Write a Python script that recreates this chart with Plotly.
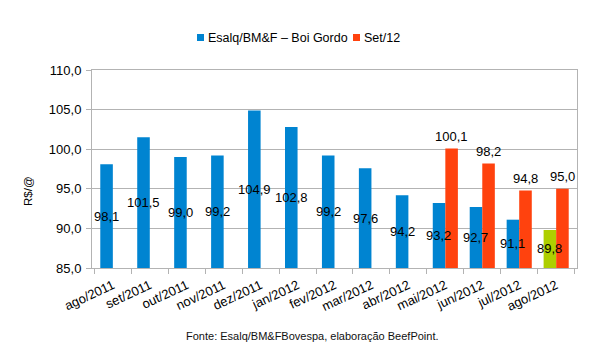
import plotly.graph_objects as go

categories = ["ago/2011", "set/2011", "out/2011", "nov/2011", "dez/2011", "jan/2012",
              "fev/2012", "mar/2012", "abr/2012", "mai/2012", "jun/2012", "jul/2012", "ago/2012"]
boi_gordo = [98.1, 101.5, 99.0, 99.2, 104.9, 102.8, 99.2, 97.6, 94.2, 93.2, 92.7, 91.1, 89.8]
set12 = [None, None, None, None, None, None, None, None, None, 100.1, 98.2, 94.8, 95.0]
y_ticks = [85, 90, 95, 100, 105, 110]

BLUE, ORANGE, GREEN = "#0084d1", "#ff420e", "#aecf00"
BASE = 85.0
FONT = "Liberation Sans"

W, H = 601, 363
ML, MR, MT, MB = 92, 24, 70, 95
PW, PH = W - ML - MR, H - MT - MB
BARGAP = 0.32
half_bar = (PW / len(categories)) * (1 - BARGAP) / 4  # offset of each bar centre from category centre

def fmt(v):
    return f"{v:.1f}".replace(".", ",")

def px(x):
    return (x - ML) / PW

def py(y):
    return (H - MB - y) / PH

blue_colors = [BLUE] * (len(boi_gordo) - 1) + [GREEN]

fig = go.Figure()
fig.add_trace(go.Bar(
    x=categories, y=[v - BASE for v in boi_gordo], base=BASE,
    name="Esalq/BM&F – Boi Gordo", marker=dict(color=blue_colors, line=dict(width=0)),
    showlegend=False,
))
fig.add_trace(go.Bar(
    x=categories, y=[None if v is None else v - BASE for v in set12], base=BASE,
    name="Set/12", marker=dict(color=ORANGE, line=dict(width=0)),
    showlegend=False,
))

annotations = []
for c, v in zip(categories, boi_gordo):
    annotations.append(dict(x=c, y=(BASE + v) / 2, xref="x", yref="y", text=fmt(v),
                            xshift=-half_bar, showarrow=False, xanchor="center", yanchor="middle",
                            font=dict(family=FONT, size=13, color="black")))
for c, v in zip(categories, set12):
    if v is None:
        continue
    annotations.append(dict(x=c, y=v, xref="x", yref="y", text=fmt(v),
                            xshift=half_bar, yshift=12, showarrow=False, xanchor="center",
                            yanchor="middle", font=dict(family=FONT, size=13, color="black")))

# legend (drawn manually to match the compact layout)
shapes = []
legend_items = [(197, BLUE, "Esalq/BM&F – Boi Gordo"), (353, ORANGE, "Set/12")]
for x0, col, label in legend_items:
    shapes.append(dict(type="rect", xref="paper", yref="paper", x0=px(x0), x1=px(x0 + 7),
                       y0=py(41), y1=py(34), fillcolor=col, line=dict(width=0)))
    annotations.append(dict(x=px(x0 + 9), y=py(37.5), xref="paper", yref="paper", text=label,
                            showarrow=False, xanchor="left", yanchor="middle",
                            font=dict(family=FONT, size=12.5, color="black")))

# y-axis title
annotations.append(dict(x=px(28), y=py(191), xref="paper", yref="paper", text="R$/@",
                        textangle=-90, showarrow=False, xanchor="center", yanchor="middle",
                        font=dict(family=FONT, size=11.5, color="black")))
# source
annotations.append(dict(x=px(312), y=py(336), xref="paper", yref="paper",
                        text="Fonte: Esalq/BM&FBovespa, elaboração BeefPoint.",
                        showarrow=False, xanchor="center", yanchor="middle",
                        font=dict(family=FONT, size=11, color="#111111")))

fig.update_layout(
    width=W, height=H,
    margin=dict(l=ML, r=MR, t=MT, b=MB, autoexpand=False),
    paper_bgcolor="white", plot_bgcolor="white",
    barmode="group", bargap=BARGAP, bargroupgap=0,
    font=dict(family=FONT, size=13, color="black"),
    showlegend=False,
    xaxis=dict(tickson="boundaries", ticks="outside", ticklen=5, tickcolor="#b3b3b3",
               showline=True, linecolor="#b3b3b3", mirror=True, tickangle=-25,
               ticklabelstandoff=4,
               tickfont=dict(size=13, color="black"), showgrid=False, automargin=False),
    yaxis=dict(range=[y_ticks[0], y_ticks[-1]], tickvals=y_ticks, tickformat=".1f",
               ticks="outside", ticklen=5, ticklabelstandoff=2,
               tickcolor="#b3b3b3", showline=True, linecolor="#b3b3b3", mirror=True,
               gridcolor="#b3b3b3", gridwidth=1, tickfont=dict(size=13, color="black"),
               zeroline=False, automargin=False),
    separators=",.",
    annotations=annotations,
    shapes=shapes,
)
fig.update_traces(cliponaxis=False)
fig.write_html("out.html", post_script="document.body.style.margin='0';",
               config={"displayModeBar": False})
